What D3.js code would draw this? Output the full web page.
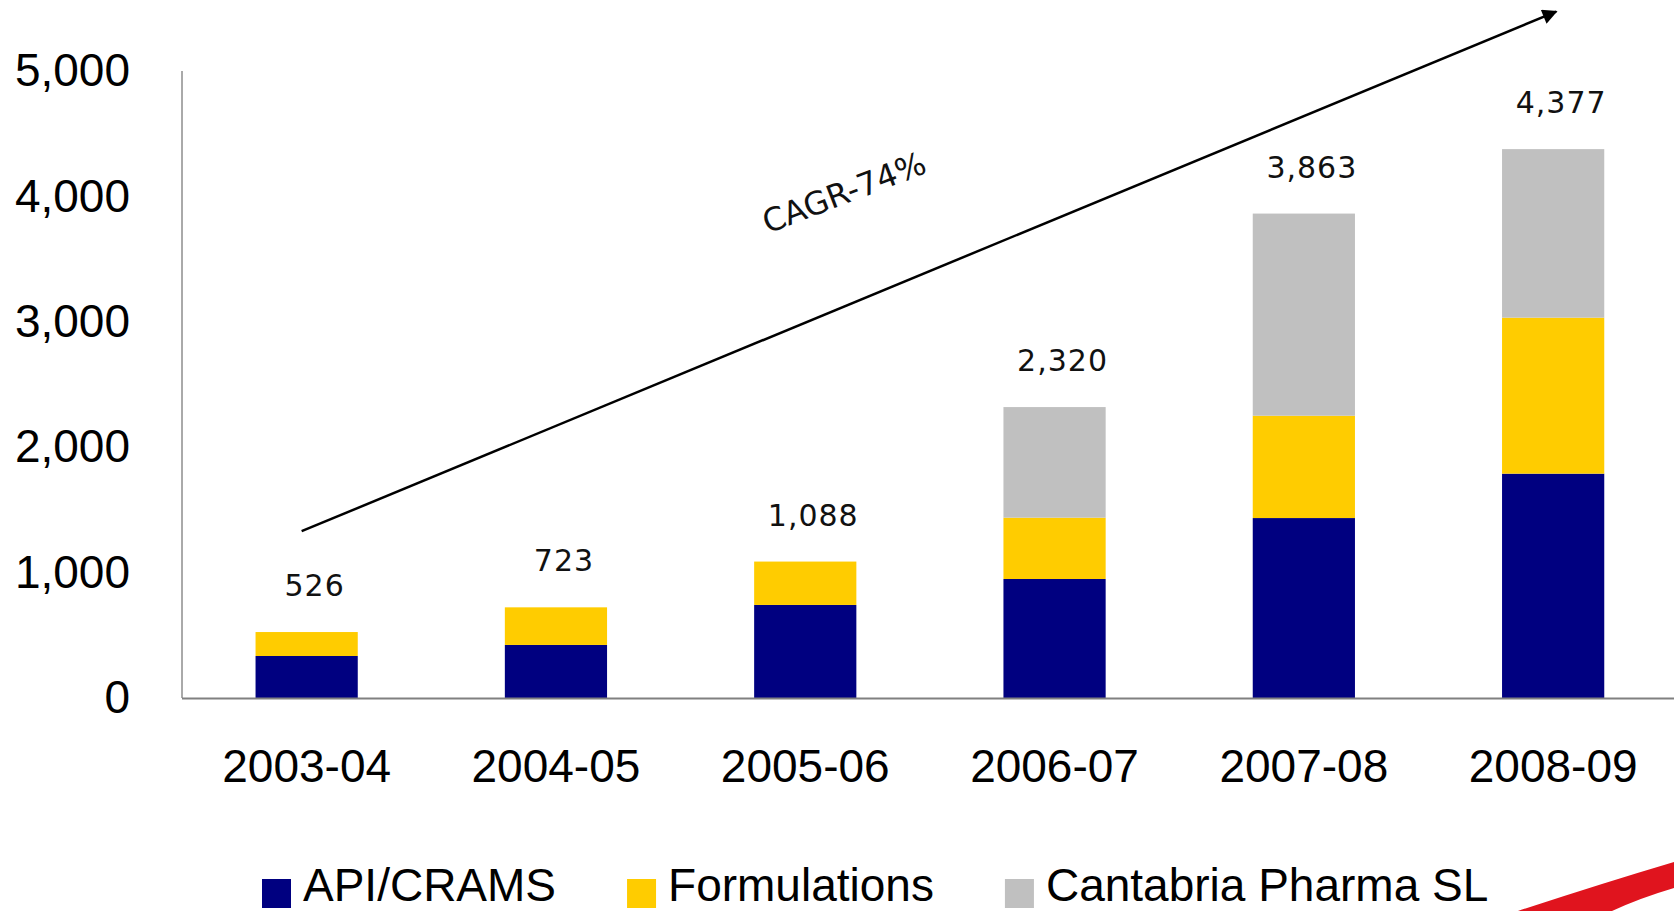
<!DOCTYPE html>
<html>
<head>
<meta charset="utf-8">
<script src="https://cdn.jsdelivr.net/npm/d3@7"></script>
<style>
  body { margin: 0; background: #fff; }
  svg { display: block; }
  .tick-label { font-family: "Liberation Sans", Arial, sans-serif; font-size: 46px; fill: #000; }
  .value-label { font-family: "DejaVu Sans", Verdana, sans-serif; font-size: 30px; fill: #111; letter-spacing: 1px; }
</style>
</head>
<body>
<div id="chart"></div>
<script>
// years on the x axis
var years = ['2003-04', '2004-05', '2005-06', '2006-07', '2007-08', '2008-09'];
// segment values
var apiCrams = [335, 423, 742, 949, 1435, 1789];
var formulations = [191, 300, 346, 489, 816, 1244];
var cantabria = [0, 0, 0, 882, 1612, 1344];
// totals printed above the bars
var totals = [526, 723, 1088, 2320, 3863, 4377];
var yTicks = [0, 1000, 2000, 3000, 4000, 5000];
var seriesNames = ['API/CRAMS', 'Formulations', 'Cantabria Pharma SL'];
var seriesColors = ['#000080', '#FFCC00', '#C0C0C0'];
var cagrText = 'CAGR-74%';

var width = 1674, height = 911;
var margin = {top: 71, left: 182, bottom: 213};

var svg = d3.select('#chart').append('svg')
    .attr('width', width)
    .attr('height', height);

var x = d3.scaleBand()
    .domain(years)
    .range([margin.left, margin.left + 6 * 249.3])
    .paddingInner(0.59)
    .paddingOuter(0.295);

var y = d3.scaleLinear()
    .domain([0, 5000])
    .range([height - margin.bottom, margin.top]);

// build stack table
var table = years.map(function(yr, i) {
    return {year: yr, a: apiCrams[i], f: formulations[i], c: cantabria[i], total: totals[i]};
});
var stack = d3.stack().keys(['a', 'f', 'c'])(table);

svg.append('g').selectAll('g')
    .data(stack)
    .enter().append('g')
    .attr('fill', function(d, i) { return seriesColors[i]; })
    .selectAll('rect')
    .data(function(d) { return d; })
    .enter().append('rect')
    .attr('x', function(d) { return x(d.data.year); })
    .attr('width', x.bandwidth())
    .attr('y', function(d) { return y(d[1]); })
    .attr('height', function(d) { return y(d[0]) - y(d[1]); });

// y axis line + labels (no ticks)
svg.append('line')
    .attr('x1', margin.left).attr('x2', margin.left)
    .attr('y1', y(5000)).attr('y2', y(0))
    .attr('stroke', '#555').attr('stroke-width', 1);

svg.append('g').selectAll('text')
    .data(yTicks)
    .enter().append('text')
    .attr('class', 'tick-label')
    .attr('x', margin.left - 52)
    .attr('y', function(d) { return y(d); })
    .attr('dy', '0.33em')
    .attr('text-anchor', 'end')
    .text(d3.format(','));

// x axis line
svg.append('line')
    .attr('x1', margin.left).attr('x2', width)
    .attr('y1', y(0) + 0.5).attr('y2', y(0) + 0.5)
    .attr('stroke', '#808080').attr('stroke-width', 2);

svg.append('g').selectAll('text')
    .data(years)
    .enter().append('text')
    .attr('class', 'tick-label')
    .attr('x', function(d) { return x(d) + x.bandwidth() / 2; })
    .attr('y', y(0) + 84)
    .attr('text-anchor', 'middle')
    .text(function(d) { return d; });

// totals above bars
svg.append('g').selectAll('text')
    .data(table)
    .enter().append('text')
    .attr('class', 'value-label')
    .attr('x', function(d) { return x(d.year) + x.bandwidth() / 2 + 8; })
    .attr('y', function(d) { return y(d.total) - 36; })
    .attr('text-anchor', 'middle')
    .text(function(d) { return d3.format(',')(d.total); });

// growth arrow
svg.append('defs').append('marker')
    .attr('id', 'arrowhead')
    .attr('viewBox', '0 0 10 10')
    .attr('refX', 9).attr('refY', 5)
    .attr('markerWidth', 8).attr('markerHeight', 6)
    .attr('orient', 'auto')
    .attr('markerUnits', 'strokeWidth')
    .append('path')
    .attr('d', 'M0,0 L10,5 L0,10 z')
    .attr('fill', '#000');

var arrowStart = [x(years[0]) + x.bandwidth() / 2 - 5, y(1330)];
var arrowEnd = [x(years[5]) + x.bandwidth() / 2 + 3, y(4995) - 60];
svg.append('line')
    .attr('x1', arrowStart[0]).attr('y1', arrowStart[1])
    .attr('x2', arrowEnd[0]).attr('y2', arrowEnd[1])
    .attr('stroke', '#000').attr('stroke-width', 2.5)
    .attr('marker-end', 'url(#arrowhead)');

svg.append('text')
    .attr('class', 'value-label')
    .style('font-size', '32px')
    .style('letter-spacing', '0px')
    .attr('text-anchor', 'middle')
    .attr('transform', 'translate(848,203) rotate(-21)')
    .text(cagrText);

// legend
var legend = svg.append('g').attr('class', 'legend');
var lx = 262;
seriesNames.forEach(function(name, i) {
    legend.append('rect')
        .attr('x', lx).attr('y', 879)
        .attr('width', 29).attr('height', 29)
        .attr('fill', seriesColors[i]);
    var t = legend.append('text')
        .attr('class', 'tick-label')
        .attr('x', lx + 41).attr('y', 901)
        .text(name);
    lx += 41 + t.node().getComputedTextLength() + 71;
});

// red swoosh decoration in the corner
svg.append('path')
    .attr('d', 'M1518,911 Q1600,884 1674,862 L1674,888 Q1640,898 1612,911 Z')
    .attr('fill', '#E0141E');
</script>
</body>
</html>
